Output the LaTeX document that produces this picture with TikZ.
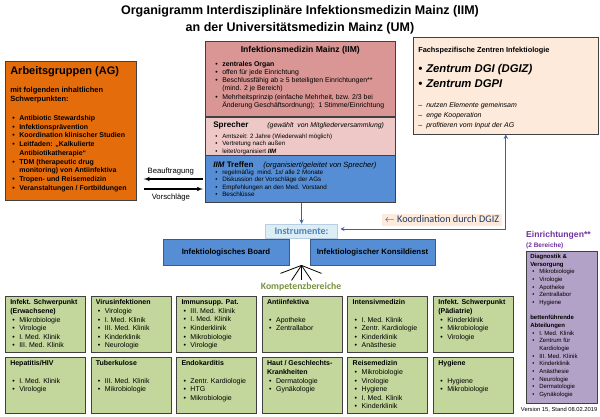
\documentclass[tikz,border=0pt]{standalone}
\usepackage{fontspec}
\setmainfont{Liberation Sans}
\newfontfamily\calfont{Carlito}
\usetikzlibrary{%
  arrows,
  calc
}

\definecolor{agorange}{RGB}{228,108,10}
\definecolor{iimpink}{RGB}{217,150,148}
\definecolor{sprpink}{RGB}{238,200,199}
\definecolor{iimblue}{RGB}{85,142,213}
\definecolor{boardline}{RGB}{56,93,138}
\definecolor{zpeach}{RGB}{253,234,218}
\definecolor{kgreen}{RGB}{195,214,155}
\definecolor{epurple}{RGB}{179,162,199}
\definecolor{einrtext}{RGB}{112,48,160}
\definecolor{kompgreen}{RGB}{118,146,60}
\definecolor{instrfill}{RGB}{219,238,244}
\definecolor{instrline}{RGB}{185,205,229}
\definecolor{instrtext}{RGB}{79,129,189}
\definecolor{arrblue}{RGB}{54,96,170}
\definecolor{kordtext}{RGB}{31,56,100}

\newcommand{\bitem}{\hspace*{2pt}\makebox[7pt][l]{\textbullet}}
\newcommand{\contl}{\hspace*{9pt}}

\tikzset{
    frame/.style={draw=black!75, line width=0.6pt, anchor=north west},
    tbox/.style 2 args={execute at begin node={\begin{minipage}[t][#2][t]{#1}\raggedright},
        execute at end node={\end{minipage}}},
    agbox/.style={frame, fill=agorange, inner xsep=5pt, inner ysep=4.9pt, tbox={121pt}{129.2pt},
        font=\bfseries\fontsize{7}{8.75}\selectfont},
    iimbox/.style={frame, fill=iimpink, inner xsep=8pt, inner ysep=5pt, tbox={174pt}{65pt},
        font=\fontsize{6.9}{8.3}\selectfont},
    sprbox/.style={frame, fill=sprpink, inner xsep=8pt, inner ysep=4.3pt, tbox={174pt}{29.4pt},
        font=\fontsize{6.2}{7.5}\selectfont},
    trfbox/.style={frame, fill=iimblue, inner xsep=8pt, inner ysep=6.4pt, tbox={174pt}{34.2pt},
        font=\fontsize{6.3}{7.5}\selectfont},
    zbox/.style={frame, fill=zpeach, inner xsep=5pt, inner ysep=10.2pt, tbox={175pt}{76.6pt},
        font=\fontsize{7}{12}\selectfont},
    gbox/.style={frame, fill=kgreen, inner xsep=5pt, inner ysep=3.5pt, tbox={70pt}{49pt},
        font=\fontsize{7}{8.6}\selectfont},
    ebox/.style={frame, fill=epurple, inner xsep=4pt, inner ysep=3pt, tbox={63pt}{146pt},
        font=\fontsize{6}{7.65}\selectfont},
    board/.style={draw=boardline, line width=0.8pt, fill=iimblue, minimum width=126pt,
        minimum height=26pt, font=\bfseries\fontsize{7.8}{9}\selectfont},
    instrbox/.style={draw=instrline, line width=1.5pt, fill=instrfill, minimum width=72pt,
        minimum height=14pt, inner sep=0pt, text=instrtext, font=\calfont\bfseries\fontsize{10}{12}\selectfont},
    kord/.style={fill=zpeach, inner xsep=3pt, inner ysep=1.5pt, text height=7pt, text depth=2pt,
        text=kordtext, font=\calfont\fontsize{10.2}{12}\selectfont},
    barrow/.style={draw=arrblue, line width=0.9pt, >=stealth},
    karrow/.style={line width=1.1pt, >=latex'},
    lbl/.style={font=\fontsize{7.7}{9}\selectfont}
}

\begin{document}
\begin{tikzpicture}[x=1pt, y=-1pt]
    \useasboundingbox (0,0) rectangle (600,417);

    \node[font=\bfseries\fontsize{12.5}{17}\selectfont, align=center] (title) at (300,19.5)
        {Organigramm Interdisziplinäre Infektionsmedizin Mainz (IIM)\\an der Universitätsmedizin Mainz (UM)};

    \node[agbox] (ag) at (5,61) {%
        {\fontsize{11}{13}\selectfont Arbeitsgruppen (AG)}\\[10pt]
        {\fontsize{7.5}{9}\selectfont mit folgenden inhaltlichen}\\
        {\fontsize{7.5}{9}\selectfont Schwerpunkten:}\\[10pt]
        \bitem Antibiotic Stewardship\\
        \bitem Infektionsprävention\\
        \bitem Koordination klinischer Studien\\
        \bitem Leitfaden: „Kalkulierte\\
        \contl Antibiotikatherapie“\\
        \bitem TDM (therapeutic drug\\
        \contl monitoring) von Antiinfektiva\\
        \bitem Tropen- und Reisemedizin\\
        \bitem Veranstaltungen / Fortbildungen};

    \node[iimbox] (iim) at (205,41) {%
        \makebox[\linewidth]{\bfseries\fontsize{8.6}{10}\selectfont Infektionsmedizin Mainz (IIM)}\\[5.2pt]
        \bitem \textbf{zentrales Organ}\\
        \bitem offen für jede Einrichtung\\
        \bitem Beschlussfähig ab ≥ 5 beteiligten Einrichtungen**\\
        \contl (mind. 2 je Bereich)\\
        \bitem Mehrheitsprinzip (einfache Mehrheit, bzw. 2/3 bei\\
        \contl Änderung Geschäftsordnung); \ 1 Stimme/Einrichtung};
    \node[sprbox] (spr) at (iim.south west) {%
        {\bfseries\fontsize{8.1}{10}\selectfont Sprecher}\hspace{19pt}{\itshape\fontsize{6.9}{8}\selectfont (gewählt \ von Mitgliederversammlung)}\\[3.5pt]
        \bitem Amtszeit: 2 Jahre (Wiederwahl möglich)\\
        \bitem Vertretung nach außen\\
        \bitem leitet/organisiert \textbf{\textit{IIM}}};
    \node[trfbox] (trf) at (spr.south west) {%
        {\bfseries\fontsize{8}{10}\selectfont\textit{IIM} Treffen}\hspace{10pt}{\itshape\fontsize{7.5}{9}\selectfont (organisiert/geleitet von Sprecher)}\\[-0.8pt]
        \bitem regelmäßig \ mind. 1x/ alle 2 Monate\\
        \bitem Diskussion der Vorschläge der AGs\\
        \bitem Empfehlungen an den Med. Vorstand\\
        \bitem Beschlüsse};

    \node[zbox] (zen) at (413,37) {%
        {\bfseries\fontsize{7.35}{9}\selectfont Fachspezifische Zentren Infektiologie}\\[7.4pt]
        {\bfseries\itshape\fontsize{11.3}{13}\selectfont\makebox[8pt][l]{•}Zentrum DGI (DGIZ)}\\[3pt]
        {\bfseries\itshape\fontsize{11.3}{13}\selectfont\makebox[8pt][l]{•}Zentrum DGPI}\\[8.5pt]
        \makebox[8pt][l]{–}\textit{nutzen Elemente gemeinsam}\\[-2pt]
        \makebox[8pt][l]{–}\textit{enge Kooperation}\\[-2pt]
        \makebox[8pt][l]{–}\textit{profitieren vom Input der AG}};

    \draw[karrow, ->, shorten >=7pt, shorten <=2pt] (trf.west) -- (trf.west -| ag.east)
        node[lbl, midway, above=0.5pt] (beauf) {Beauftragung};
    \draw[karrow, ->, shorten <=7pt, shorten >=2pt] ($(trf.west -| ag.east)+(0,10)$) -- ($(trf.west)+(0,10)$)
        node[lbl, midway, below=1pt] (vorschl) {Vorschläge};

    \node[board] (board) at (226,252) {Infektiologisches Board};
    \node[board, minimum width=125pt] (konsil) at (372.5,252) {Infektiologischer Konsildienst};
    \node[instrbox] (instr) at (301.5,231.5) {Instrumente:};

    \draw[barrow, ->] (trf.south -| instr.north) -- (instr.north);
    \draw[barrow, <->, shorten <=2pt] ([yshift=2.5pt]instr.east) -| (zen.south);
    \node[kord] (kordlbl) at (442,220) {$\leftarrow$ Koordination durch DGIZ};

    \coordinate (fan) at (instr.south |- board.south);
    \foreach \dx/\dy in {-21/8, -10/15, 0/15, 10/15, 20/8}
        \draw[line width=0.8pt] (fan) -- ++(\dx,\dy);
    \node[font=\calfont\bfseries\fontsize{9.7}{11}\selectfont, text=kompgreen] (komp) at (301,287) {Kompetenzbereiche};

    \foreach \i/\nm/\body in {
        0/erw/{{\bfseries Infekt. Schwerpunkt\\(Erwachsene)}\\\bitem Mikrobiologie\\\bitem Virologie\\\bitem I. Med. Klinik\\\bitem III. Med. Klinik},
        1/viro/{{\bfseries Virusinfektionen}\\\bitem Virologie\\\bitem I. Med. Klinik\\\bitem III. Med. Klinik\\\bitem Kinderklinik\\\bitem Neurologie},
        2/immun/{{\bfseries Immunsupp. Pat.}\\\bitem III. Med. Klinik\\\bitem I. Med. Klinik\\\bitem Kinderklinik\\\bitem Mikrobiologie\\\bitem Virologie},
        3/anti/{{\bfseries Antiinfektiva}\\[8.6pt]\bitem Apotheke\\\bitem Zentrallabor},
        4/intens/{{\bfseries Intensivmedizin}\\[8.6pt]\bitem I. Med. Klinik\\\bitem Zentr. Kardiologie\\\bitem Kinderklinik\\\bitem Anästhesie},
        5/paed/{{\bfseries Infekt. Schwerpunkt\\(Pädiatrie)}\\\bitem Kinderklinik\\\bitem Mikrobiologie\\\bitem Virologie}}
        \node[gbox] (\nm) at (5+85.6*\i,296) {\body};

    \foreach \i/\nm/\body in {
        0/hiv/{{\bfseries Hepatitis/HIV}\\[8.6pt]\bitem I. Med. Klinik\\\bitem Virologie},
        1/tbc/{{\bfseries Tuberkulose}\\[8.6pt]\bitem III. Med. Klinik\\\bitem Mikrobiologie},
        2/endo/{{\bfseries Endokarditis}\\[8.6pt]\bitem Zentr. Kardiologie\\\bitem HTG\\\bitem Mikrobiologie},
        3/haut/{{\bfseries Haut / Geschlechts-\\Krankheiten}\\\bitem Dermatologie\\\bitem Gynäkologie},
        4/reise/{{\bfseries Reisemedizin}\\\bitem Mikrobiologie\\\bitem Virologie\\\bitem Hygiene\\\bitem I. Med. Klinik\\\bitem Kinderklinik},
        5/hyg/{{\bfseries Hygiene}\\[8.6pt]\bitem Hygiene\\\bitem Mikrobiologie}}
        \node[gbox] (\nm) at (5+85.6*\i,357) {\body};

    \node[ebox] (einr) at (526,251) {%
        {\bfseries Diagnostik \&\\Versorgung}\\
        \bitem Mikrobiologie\\
        \bitem Virologie\\
        \bitem Apotheke\\
        \bitem Zentrallabor\\
        \bitem Hygiene\\[7.65pt]
        {\bfseries bettenführende\\Abteilungen}\\
        \bitem I. Med. Klinik\\
        \bitem Zentrum für\\
        \contl Kardiologie\\
        \bitem III. Med. Klinik\\
        \bitem Kinderklinik\\
        \bitem Anästhesie\\
        \bitem Neurologie\\
        \bitem Dermatologie\\
        \bitem Gynäkologie};
    \node[anchor=south west, inner sep=0pt, align=left, text=einrtext, font=\bfseries\fontsize{8.6}{10}\selectfont]
        (einrtitle) at ([yshift=2pt]einr.north west) {Einrichtungen**\\{\fontsize{6.5}{7}\selectfont (2 Bereiche)}};
    \node[anchor=north east, inner sep=0pt, font=\fontsize{5.8}{7}\selectfont] (version)
        at ([yshift=-3.5pt]einr.south east) {Version 15, Stand 08.02.2019};
\end{tikzpicture}
\end{document}
